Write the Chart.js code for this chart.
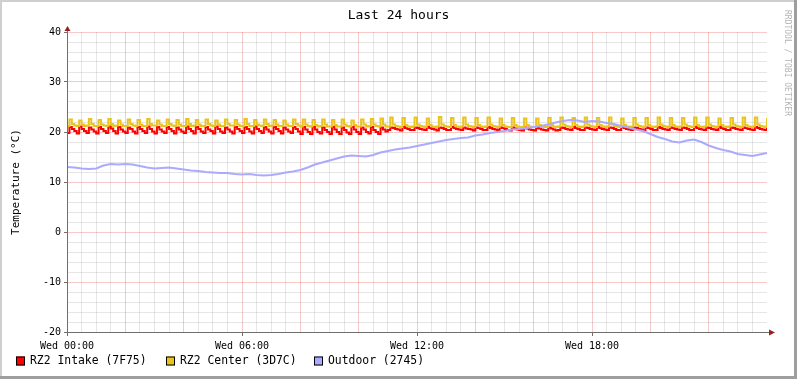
<!DOCTYPE html>
<html>
<head>
<meta charset="utf-8">
<title>Last 24 hours</title>
<script src="https://cdn.jsdelivr.net/npm/chart.js@4/dist/chart.umd.min.js"></script>
<style>
  html, body { margin: 0; padding: 0; background: #fff; }
  canvas { display: block; }
</style>
</head>
<body>
<canvas id="chart" width="797" height="379"></canvas>
<script>
// ---- data ----
const TITLE = "Last 24 hours";
const Y_LABEL = "Temperature (\u00B0C)";
const SERIES_NAMES = ["RZ2 Intake (7F75)", "RZ2 Center (3D7C)", "Outdoor (2745)"];
const SERIES_COLORS = ["#FF0000", "#EAC41E", "#AAAAFF"];
const X_TICK_HOURS = [0, 6, 12, 18];
const X_TICK_LABELS = ["Wed 00:00", "Wed 06:00", "Wed 12:00", "Wed 18:00"];
const Y_MIN = -20, Y_MAX = 40;

const INTAKE_STEP_MIN = 5;   // 5 min samples
const CENTER_STEP_MIN = 5;
const OUTDOOR_STEP_MIN = 15;

const intake = [
  19.8, 21.0, 20.6, 20.2, 19.7, 21.1, 20.6, 20.2, 19.8, 20.9, 20.5, 20.1,
  19.7, 21.0, 20.6, 20.2, 19.8, 21.1, 20.7, 20.2, 19.7, 21.0, 20.5, 20.1,
  19.8, 20.9, 20.6, 20.1, 19.7, 21.0, 20.6, 20.2, 19.8, 21.1, 20.6, 20.1,
  19.7, 21.0, 20.5, 20.1, 19.8, 21.0, 20.6, 20.2, 19.7, 20.9, 20.5, 20.1,
  19.8, 21.1, 20.6, 20.2, 19.7, 21.0, 20.6, 20.1, 19.8, 21.0, 20.5, 20.2,
  19.7, 21.1, 20.6, 20.1, 19.8, 20.9, 20.5, 20.1, 19.7, 21.0, 20.6, 20.2,
  19.8, 21.0, 20.6, 20.1, 19.7, 21.1, 20.6, 20.2, 19.8, 21.0, 20.5, 20.1,
  19.7, 21.0, 20.6, 20.2, 19.7, 20.9, 20.5, 20.1, 19.8, 21.0, 20.6, 20.1,
  19.6, 21.0, 20.5, 20.0, 19.6, 21.0, 20.5, 20.0, 19.7, 20.9, 20.4, 20.0,
  19.6, 21.0, 20.5, 20.0, 19.6, 20.9, 20.4, 19.9, 19.6, 21.0, 20.5, 20.0,
  19.6, 20.9, 20.5, 20.0, 19.7, 21.0, 20.4, 20.0, 19.6, 20.9, 20.5, 20.1,
  // from ~11:00 the intake runs a bit warmer and flatter
  20.4, 20.9, 20.8, 20.6, 20.5, 20.3, 21.0, 20.8, 20.6, 20.4,
  20.4, 20.9, 20.8, 20.6, 20.5, 20.4, 21.0, 20.8, 20.6, 20.5,
  20.3, 20.9, 20.8, 20.6, 20.4, 20.4, 21.0, 20.8, 20.6, 20.5,
  20.4, 20.9, 20.7, 20.6, 20.5, 20.3, 20.9, 20.8, 20.6, 20.4,
  20.4, 21.0, 20.8, 20.6, 20.5, 20.4, 20.9, 20.8, 20.6, 20.4,
  20.3, 20.9, 20.7, 20.5, 20.4, 20.3, 20.9, 20.7, 20.5, 20.4,
  20.3, 20.8, 20.7, 20.5, 20.4, 20.3, 20.9, 20.7, 20.5, 20.3,
  20.4, 20.9, 20.8, 20.6, 20.5, 20.4, 21.0, 20.8, 20.6, 20.4,
  20.4, 20.9, 20.8, 20.6, 20.5, 20.4, 21.0, 20.8, 20.6, 20.5,
  20.4, 20.9, 20.8, 20.6, 20.4, 20.4, 21.0, 20.8, 20.6, 20.5,
  20.4, 20.9, 20.8, 20.6, 20.5, 20.3, 20.9, 20.8, 20.6, 20.4,
  20.4, 21.0, 20.8, 20.6, 20.5, 20.4, 20.9, 20.8, 20.6, 20.5,
  20.4, 20.9, 20.8, 20.6, 20.4, 20.4, 21.0, 20.8, 20.6, 20.5,
  20.4, 20.9, 20.8, 20.6, 20.5, 20.4, 21.0, 20.8, 20.6, 20.4,
  20.4, 20.9, 20.8, 20.6, 20.5, 20.4, 20.9, 20.8, 20.6, 20.5,
  20.4, 21.0, 20.8, 20.6, 20.5, 20.4, 20.9
];

const center = [
  21.2, 22.5, 21.6, 21.3, 21.2, 22.3, 21.5, 21.2, 21.3, 22.6, 21.6, 21.2,
  21.2, 22.4, 21.5, 21.3, 21.2, 22.6, 21.6, 21.2, 21.3, 22.3, 21.5, 21.2,
  21.2, 22.5, 21.6, 21.3, 21.2, 22.4, 21.5, 21.2, 21.2, 22.6, 21.6, 21.3,
  21.3, 22.3, 21.5, 21.2, 21.2, 22.5, 21.6, 21.3, 21.2, 22.4, 21.5, 21.2,
  21.2, 22.6, 21.6, 21.2, 21.3, 22.4, 21.5, 21.2, 21.2, 22.5, 21.6, 21.3,
  21.2, 22.3, 21.5, 21.2, 21.2, 22.5, 21.6, 21.3, 21.3, 22.4, 21.5, 21.2,
  21.2, 22.6, 21.6, 21.2, 21.2, 22.4, 21.5, 21.3, 21.2, 22.5, 21.6, 21.2,
  21.3, 22.4, 21.5, 21.2, 21.2, 22.3, 21.5, 21.2, 21.2, 22.5, 21.6, 21.3,
  21.1, 22.5, 21.5, 21.2, 21.1, 22.4, 21.4, 21.1, 21.2, 22.5, 21.5, 21.1,
  21.1, 22.4, 21.4, 21.1, 21.1, 22.5, 21.5, 21.2, 21.1, 22.3, 21.4, 21.1,
  21.1, 22.5, 21.5, 21.1, 21.2, 22.6, 21.5, 21.2, 21.1, 22.7, 21.5, 21.1,
  21.1, 22.9, 21.5, 21.2, 21.1, 21.0, 22.8, 21.4, 21.1, 21.0,
  21.1, 22.9, 21.5, 21.2, 21.1, 21.0, 22.7, 21.4, 21.1, 21.0,
  21.1, 23.0, 21.5, 21.2, 21.1, 21.0, 22.8, 21.4, 21.1, 21.0,
  21.1, 22.9, 21.5, 21.2, 21.1, 21.0, 22.8, 21.4, 21.1, 21.0,
  21.1, 22.9, 21.5, 21.2, 21.1, 21.0, 22.7, 21.4, 21.1, 21.0,
  21.0, 22.8, 21.4, 21.1, 21.0, 21.0, 22.7, 21.4, 21.1, 21.0,
  21.0, 22.7, 21.4, 21.1, 21.0, 21.0, 22.8, 21.4, 21.1, 21.0,
  21.1, 22.9, 21.5, 21.2, 21.1, 21.0, 22.8, 21.4, 21.1, 21.0,
  21.1, 22.9, 21.5, 21.2, 21.1, 21.0, 22.8, 21.4, 21.1, 21.0,
  21.1, 22.9, 21.5, 21.2, 21.1, 21.0, 22.7, 21.4, 21.1, 21.0,
  21.1, 22.8, 21.5, 21.2, 21.1, 21.0, 22.8, 21.4, 21.1, 21.0,
  21.1, 22.9, 21.5, 21.2, 21.1, 21.0, 22.8, 21.4, 21.1, 21.0,
  21.1, 22.8, 21.5, 21.2, 21.1, 21.0, 22.9, 21.4, 21.1, 21.0,
  21.1, 22.9, 21.5, 21.2, 21.1, 21.0, 22.7, 21.4, 21.1, 21.0,
  21.1, 22.8, 21.5, 21.2, 21.1, 21.0, 22.9, 21.4, 21.1, 21.0,
  21.1, 22.9, 21.5, 21.2, 21.1, 21.0, 22.8
];

const outdoor = [
  13.0, 12.9, 12.7, 12.6,
  12.7, 13.3, 13.6, 13.5,
  13.6, 13.5, 13.2, 12.9,
  12.7, 12.8, 12.9, 12.7,
  12.5, 12.3, 12.2, 12.0,
  11.9, 11.8, 11.8, 11.6,
  11.5, 11.6, 11.4, 11.3,
  11.4, 11.6, 11.9, 12.1,
  12.4, 12.9, 13.5, 13.9,
  14.3, 14.7, 15.1, 15.3,
  15.2, 15.1, 15.4, 15.9,
  16.2, 16.5, 16.7, 16.9,
  17.2, 17.5, 17.8, 18.1,
  18.4, 18.6, 18.8, 18.9,
  19.3, 19.5, 19.8, 20.0,
  20.2, 20.5, 20.6, 20.8,
  21.0, 21.2, 21.5, 21.9,
  22.2, 22.4, 22.3, 22.0,
  22.2, 22.1, 21.8, 21.6,
  21.2, 20.9, 20.5, 20.2,
  19.6, 19.0, 18.6, 18.1,
  17.9, 18.3, 18.5, 18.0,
  17.3, 16.8, 16.4, 16.1,
  15.6, 15.4, 15.2, 15.5,
  15.8
];

// ---- helpers ----
function toPoints(values, stepMin){
  return values.map((v, i) => ({ x: i * stepMin / 60, y: v }));
}

const FONT = "'DejaVu Sans Mono', 'Liberation Mono', monospace";
const AXIS_COLOR = "#6f6f6f";
const ARROW_COLOR = "#9a1f1f";
const GRID_MINOR = "rgba(143,143,143,0.22)";
const GRID_MAJOR = "rgba(230,80,80,0.30)";

// frame, titles, legend, arrows — the rrdtool decorations
const rrdDecor = {
  id: "rrdDecor",
  beforeDraw(chart){
    const c = chart.ctx;
    const W = chart.width, H = chart.height;
    c.save();
    c.fillStyle = "#ffffff";
    c.fillRect(0, 0, W, H);
    // 3d-ish frame
    c.fillStyle = "#cfcfcf";
    c.fillRect(0, 0, W, 2);
    c.fillRect(0, 0, 2, H);
    c.fillStyle = "#9e9e9e";
    c.fillRect(0, H - 3, W, 3);
    c.fillRect(W - 3, 0, 3, H);
    c.restore();
  },
  afterDraw(chart){
    const c = chart.ctx;
    const a = chart.chartArea;
    c.save();

    // title
    c.fillStyle = "#000";
    c.font = "13px " + FONT;
    c.textAlign = "center";
    c.textBaseline = "middle";
    c.fillText(TITLE, chart.width / 2, 16);

    // y axis title
    c.save();
    c.translate(16, (a.top + a.bottom) / 2);
    c.rotate(-Math.PI / 2);
    c.font = "11px " + FONT;
    c.fillText(Y_LABEL, 0, 0);
    c.restore();

    // watermark
    c.save();
    c.translate(787, 63);
    c.rotate(Math.PI / 2);
    c.font = "8px " + FONT;
    c.fillStyle = "#b4b4b4";
    c.fillText("RRDTOOL / TOBI OETIKER", 0, 0);
    c.restore();

    // axes + arrows
    c.strokeStyle = AXIS_COLOR;
    c.lineWidth = 1;
    c.beginPath();
    c.moveTo(a.left + 0.5, a.bottom + 0.5);
    c.lineTo(a.left + 0.5, a.top - 3);
    c.moveTo(a.left, a.bottom + 0.5);
    c.lineTo(a.right + 2, a.bottom + 0.5);
    c.stroke();
    c.fillStyle = ARROW_COLOR;
    c.beginPath();
    c.moveTo(a.left + 0.5, a.top - 6);
    c.lineTo(a.left - 2.5, a.top - 1);
    c.lineTo(a.left + 3.5, a.top - 1);
    c.closePath();
    c.fill();
    c.beginPath();
    c.moveTo(a.right + 8, a.bottom + 0.5);
    c.lineTo(a.right + 2, a.bottom - 2.5);
    c.lineTo(a.right + 2, a.bottom + 3.5);
    c.closePath();
    c.fill();

    // legend
    const legendX = [16, 166, 314];
    const ly = 361;
    c.font = "11.4px " + FONT;
    c.textAlign = "left";
    c.textBaseline = "middle";
    SERIES_NAMES.forEach((name, i) => {
      const x = legendX[i];
      c.fillStyle = SERIES_COLORS[i];
      c.fillRect(x, ly - 4.5, 9, 9);
      c.strokeStyle = "#000";
      c.lineWidth = 1;
      c.strokeRect(x + 0.5, ly - 4, 8, 8);
      c.fillStyle = "#000";
      c.fillText(name, x + 14, ly + 0.5);
    });

    c.restore();
  }
};

const lineStyle = (color, order, stepped) => ({
  borderColor: color,
  backgroundColor: color,
  borderWidth: 2,
  pointRadius: 0,
  tension: 0,
  stepped: stepped,
  fill: false,
  order: order
});

new Chart(document.getElementById("chart"), {
  type: "line",
  data: {
    datasets: [
      { label: SERIES_NAMES[0], data: toPoints(intake, INTAKE_STEP_MIN), ...lineStyle(SERIES_COLORS[0], 3, "before") },
      { label: SERIES_NAMES[1], data: toPoints(center, CENTER_STEP_MIN), ...lineStyle(SERIES_COLORS[1], 2, "before") },
      { label: SERIES_NAMES[2], data: toPoints(outdoor, OUTDOOR_STEP_MIN), ...lineStyle(SERIES_COLORS[2], 1, false) }
    ]
  },
  options: {
    responsive: false,
    devicePixelRatio: 1,
    animation: false,
    layout: { padding: { left: 0, right: 30, top: 32, bottom: 0 } },
    plugins: {
      legend: { display: false },
      title: { display: false },
      tooltip: { enabled: false }
    },
    scales: {
      x: {
        type: "linear",
        min: 0,
        max: 24,
        afterFit: s => { s.height = 47; },
        afterBuildTicks: s => {
          const t = [];
          for (let v = 0; v < 24; v += 0.5) t.push({ value: v });
          s.ticks = t;
        },
        ticks: {
          autoSkip: false,
          maxRotation: 0,
          padding: 4,
          color: "#000",
          font: { family: FONT, size: 10 },
          callback: v => {
            const k = X_TICK_HOURS.indexOf(v);
            return k >= 0 ? X_TICK_LABELS[k] : "";
          }
        },
        grid: {
          drawTicks: true,
          tickLength: 4,
          color: ctx => {
            const v = ctx.tick ? ctx.tick.value : 0;
            if (v === 0) return "transparent";
            return v % 2 === 0 ? GRID_MAJOR : GRID_MINOR;
          },
          tickColor: ctx => (ctx.tick && ctx.tick.value % 6 === 0) ? AXIS_COLOR : "transparent"
        },
        border: { display: false }
      },
      y: {
        min: Y_MIN,
        max: Y_MAX,
        afterFit: s => { s.width = 67; },
        ticks: {
          stepSize: 2,
          autoSkip: false,
          padding: 3,
          color: "#000",
          font: { family: FONT, size: 10 },
          callback: v => (v % 10 === 0 ? String(v) : "")
        },
        grid: {
          drawTicks: true,
          tickLength: 3,
          color: ctx => {
            const v = ctx.tick ? ctx.tick.value : 0;
            if (v === Y_MIN) return "transparent";
            return v % 10 === 0 ? GRID_MAJOR : GRID_MINOR;
          },
          tickColor: ctx => (ctx.tick && ctx.tick.value % 10 === 0) ? AXIS_COLOR : "transparent"
        },
        border: { display: false }
      }
    }
  },
  plugins: [rrdDecor]
});
</script>
</body>
</html>
